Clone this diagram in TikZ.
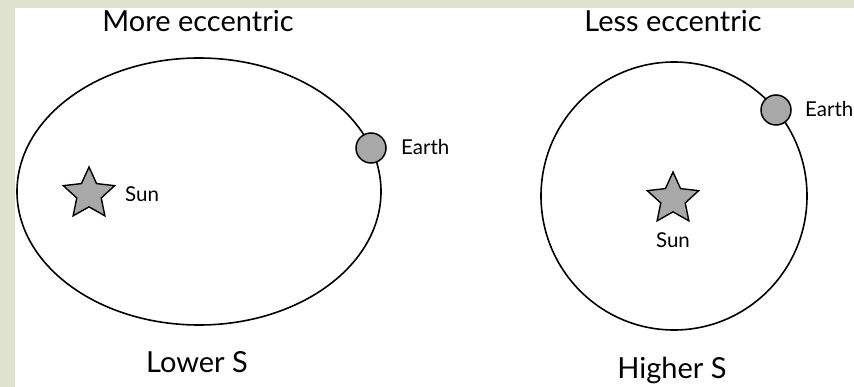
\documentclass[tikz,border=0pt]{standalone}
\usepackage{fontspec}
\setmainfont{Lato}
\usetikzlibrary{shapes.geometric}
\definecolor{bgpaper}{RGB}{224,226,208}
\definecolor{bodygray}{RGB}{168,168,168}
\tikzset{
  orbit/.style={draw=black, line width=1.6pt},
  planet/.style={circle, draw=black, line width=1.5pt, fill=bodygray, minimum size=30pt, inner sep=0pt},
  sunstar/.style={star, star points=5, star point ratio=2.1, draw=black, line width=1.4pt, fill=bodygray, minimum size=54pt, inner sep=0pt},
  title/.style={font=\fontsize{29}{32}\selectfont, anchor=base, inner sep=0pt},
  small/.style={font=\fontsize{20.5}{22}\selectfont, inner sep=0pt}
}
\begin{document}
\begin{tikzpicture}[x=1pt, y=-1pt]
\useasboundingbox (0,0) rectangle (854,387);
\fill[bgpaper] (0,0) rectangle (854,387);
\fill[white] (15,8) rectangle (854,387);
% left orbit
\draw[orbit] (199,191.5) ellipse [x radius=182pt, y radius=133.5pt];
\node[planet] (earthA) at (371,148) {};
\node[small, anchor=base west] (earthAlbl) at (401,155) {Earth};
\node[sunstar] (sunA) at (89,194) {};
\node[small, anchor=base west] (sunAlbl) at (125,202) {Sun};
\node[title] (titleA) at (198,32) {More eccentric};
\node[title] (botA) at (197,372) {Lower S};
% right orbit
\draw[orbit] (674,196) ellipse [x radius=133pt, y radius=134pt];
\node[planet] (earthB) at (776,110) {};
\node[small, anchor=base west] (earthBlbl) at (805,117) {Earth};
\node[sunstar] (sunB) at (673,199) {};
\node[small, anchor=base] (sunBlbl) at (673,248) {Sun};
\node[title] (titleB) at (673,32) {Less eccentric};
\node[title] (botB) at (672,378) {Higher S};
\end{tikzpicture}
\end{document}
